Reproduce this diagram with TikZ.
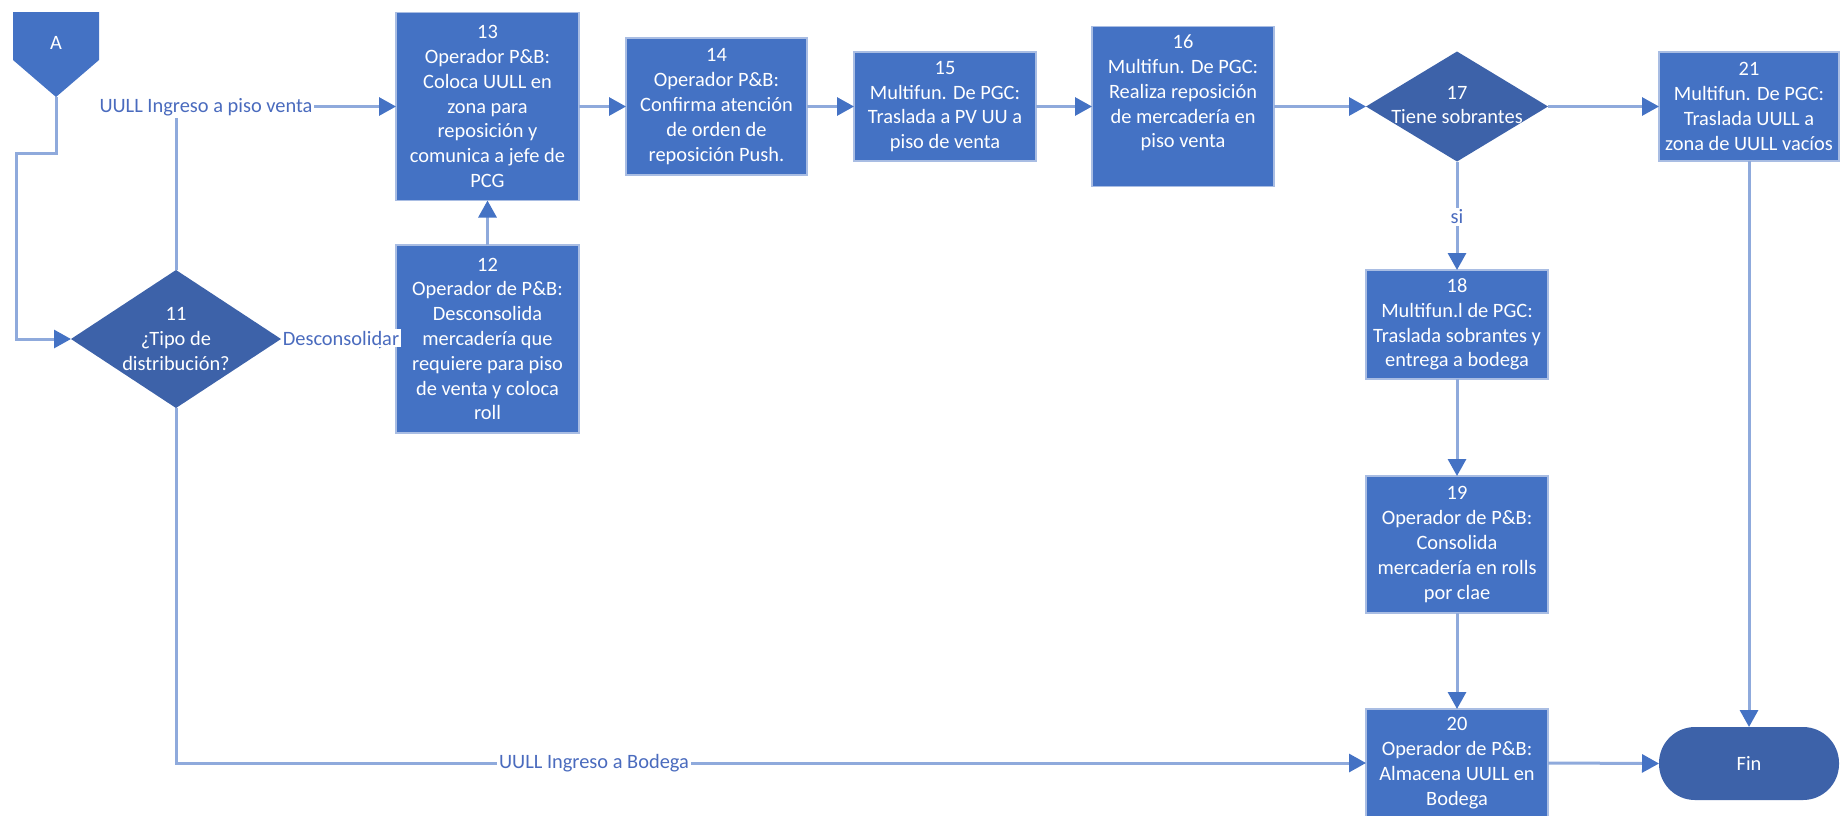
\documentclass[tikz,border=0pt]{standalone}
\usepackage{fontspec}
\setmainfont{Carlito}
\usetikzlibrary{arrows.meta,shapes.geometric}
\definecolor{boxblue}{HTML}{4472C4}
\definecolor{darkblue}{HTML}{3D62A9}
\definecolor{lineblue}{HTML}{8FAADC}
\definecolor{edgeblue}{HTML}{A9BDE3}
\definecolor{labelblue}{HTML}{4A6BBE}
\begin{document}
\begin{tikzpicture}[x=0.5pt,y=-0.5pt,
  font=\fontsize{10.2pt}{12.4pt}\selectfont,
  proc/.style={rectangle, fill=boxblue, draw=edgeblue, line width=0.6pt, text=white, align=center, inner sep=0pt, outer sep=0pt},
  dec/.style={diamond, fill=darkblue, inner sep=0pt, outer sep=0pt},
  term/.style={rectangle, rounded corners=18pt, fill=darkblue, text=white, inner sep=0pt, outer sep=0pt},
  txt/.style={text=white, align=center, inner sep=0pt},
  conn/.style={draw=lineblue, line width=1.5pt, -{Triangle[length=8.5pt,width=9pt,color=boxblue]}},
  plain/.style={draw=lineblue, line width=1.5pt},
  lbl/.style={fill=white, text=labelblue, inner sep=1pt}]
\useasboundingbox (0,0) rectangle (1840,815);

% off-page connector A
\fill[boxblue] (13,12) -- (99,12) -- (99,60) -- (56,97) -- (13,60) -- cycle;
\node[txt] (A) at (56,43) {A};
\coordinate (Atip) at (56,97);
\coordinate (c1) at (16,153);

% decisions
\node[dec, minimum width=105pt, minimum height=69pt] (d11) at (176,339) {};
\node[txt] (t11) at (176,339) {11\\¿Tipo de\\distribución?};
\node[dec, minimum width=91pt, minimum height=55pt] (d17) at (1457,106.5) {};
\node[txt] (t17) at (1457,105) {17\\Tiene sobrantes};

% process boxes
\node[proc, minimum width=91.5pt, minimum height=94pt] (n13) at (487.5,106.5)
  {13\\Operador P\&B:\\Coloca UULL en\\zona para\\reposición y\\comunica a jefe de\\PCG};
\node[proc, minimum width=91.5pt, minimum height=94pt] (n12) at (487.5,339)
  {12\\Operador de P\&B:\\Desconsolida\\mercadería que\\requiere para piso\\de venta y coloca\\roll};
\node[proc, minimum width=90.5pt, minimum height=68.5pt] (n14) at (716.5,106.5)
  {14\\Operador P\&B:\\Confirma atención\\de orden de\\reposición Push.};
\node[proc, minimum width=91pt, minimum height=54.5pt] (n15) at (945,106.5)
  {15\\Multifun. De PGC:\\Traslada a PV UU a\\piso de venta};
\node[proc, minimum width=91pt, minimum height=80pt] (n16) at (1183,106.5) {};
\node[txt] (t16) at (1183,93) {16\\Multifun. De PGC:\\Realiza reposición\\de mercadería en\\piso venta};
\node[proc, minimum width=90pt, minimum height=54.5pt] (n21) at (1749,106.5)
  {21\\Multifun. De PGC:\\Traslada UULL a\\zona de UULL vacíos};
\node[proc, minimum width=91pt, minimum height=54.5pt] (n18) at (1457,324.5)
  {18\\Multifun.l de PGC:\\Traslada sobrantes y\\entrega a bodega};
\node[proc, minimum width=91pt, minimum height=68.5pt] (n19) at (1457,544.5)
  {19\\Operador de P\&B:\\Consolida\\mercadería en rolls\\por clae};
\node[proc, minimum width=91pt, minimum height=54pt] (n20) at (1457,763)
  {20\\Operador de P\&B:\\Almacena UULL en\\Bodega};
\node[term, minimum width=90pt, minimum height=36.5pt] (fin) at (1749,763.5) {Fin};

% connectors
\draw[conn] (Atip) |- (c1) |- (d11.west);
\draw[conn] (d11.north) |- (n13.west);
\draw[conn] (d11.east) -- (n12.west);
\draw[conn] (n12.north) -- (n13.south);
\draw[conn] (n13.east) -- (n14.west);
\draw[conn] (n14.east) -- (n15.west);
\draw[conn] (n15.east) -- (n16.west);
\draw[conn] (n16.east) -- (d17.west);
\draw[conn] (d17.east) -- (n21.west);
\draw[conn] (d17.south) -- (n18.north);
\draw[conn] (n18.south) -- (n19.north);
\draw[conn] (n19.south) -- (n20.north);
\draw[conn] (d11.south) |- (n20.west);
\draw[conn] (n20.east) -- (fin.west);
\draw[conn] (n21.south) -- (fin.north);

% connector labels
\node[lbl] (l1) at (206,107) {UULL Ingreso a piso venta};
\node[lbl] (l2) at (341,338) {Desconsolidar};
\node[lbl] (l3) at (1457,217) {si};
\node[lbl] (l4) at (594,763) {UULL Ingreso a Bodega};
\end{tikzpicture}
\end{document}
